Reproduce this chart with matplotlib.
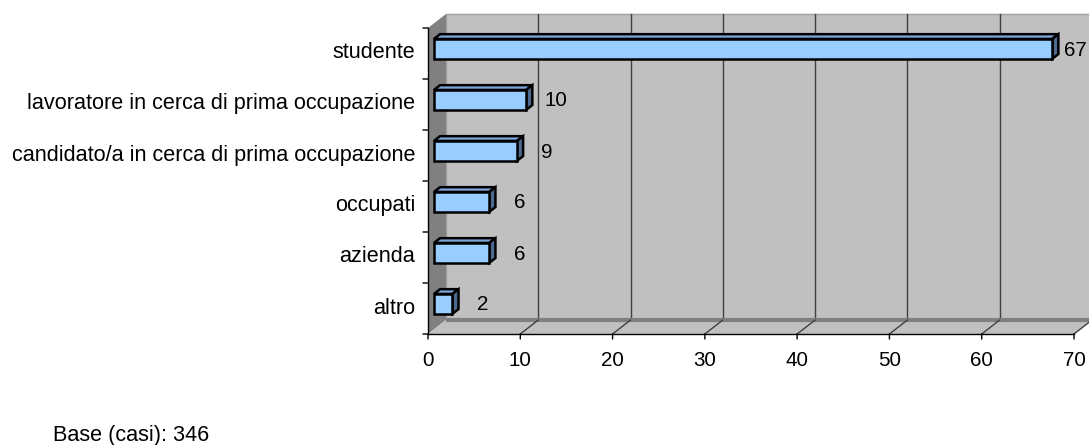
import matplotlib
matplotlib.use("Agg")
import matplotlib.pyplot as plt
from matplotlib.patches import Polygon

plt.rcParams['font.family'] = ['Liberation Sans', 'DejaVu Sans']

# data (top to bottom as in the chart)
categories = ['studente',
              'lavoratore in cerca di prima occupazione',
              'candidato/a in cerca di prima occupazione',
              'occupati',
              'azienda',
              'altro']
values = [67, 10, 9, 6, 6, 2]
xticks = [0, 10, 20, 30, 40, 50, 60, 70]
note = 'Base (casi): 346'

W, H = 1089, 445
fig = plt.figure(figsize=(W / 100, H / 100), dpi=100)
# front plane of the 3D box (pixels)
x0, x1, y0, y1 = 428, 1074, 334, 28
ax = fig.add_axes([x0 / W, 1 - y0 / H, (x1 - x0) / W, (y0 - y1) / H])
xmax = xticks[-1]
n = len(categories)
ax.set_xlim(0, xmax)
ax.set_ylim(0, n)
ax.axis('off')

# pixel -> data unit scales, depth offset 18 px right, 14 px up
sx = (x1 - x0) / xmax
sy = (y0 - y1) / n
DX = 18 / sx
DY = 14 / sy

FS_TXT = 15.6
FS_NUM = 14.8


def poly(pts, fc, ec='none', lw=0, z=1):
    ax.add_patch(Polygon(pts, closed=True, facecolor=fc, edgecolor=ec,
                         linewidth=lw, zorder=z, clip_on=False,
                         joinstyle='miter'))


# back wall
poly([(DX, DY), (xmax + DX, DY), (xmax + DX, n + DY), (DX, n + DY)],
     '#c0c0c0', '#a0a0a0', 1, z=0)
# left side wall
poly([(0, 0), (DX, DY), (DX, n + DY), (0, n)], '#808080', z=1)
# floor
poly([(0, 0), (xmax, 0), (xmax + DX, DY), (DX, DY)], '#c0c0c0', z=1)
ax.plot([DX, xmax + DX], [DY, DY], color='#808080', lw=3,
        solid_capstyle='butt', zorder=1.5, clip_on=False)

# grid lines on back wall and on floor
for t in xticks[1:]:
    ax.plot([t + DX, t + DX], [DY, n + DY], color='#404040', lw=1,
            zorder=1.2, clip_on=False)
    ax.plot([t, t + DX], [0, DY], color='#404040', lw=1, zorder=1.6,
            clip_on=False)

# axes lines and ticks
ax.plot([0, xmax], [0, 0], color='black', lw=1, zorder=5, clip_on=False)
ax.plot([0, 0], [0, n], color='black', lw=1, zorder=5, clip_on=False)
for t in xticks:
    ax.annotate('', xy=(t, 0), xytext=(0, -5), textcoords='offset pixels',
                arrowprops=dict(arrowstyle='-', color='black', lw=1,
                                shrinkA=0, shrinkB=0))
    ax.annotate(str(t), xy=(t, 0), xytext=(0, -32),
                textcoords='offset pixels', ha='center', va='baseline',
                fontsize=FS_NUM)
for k in range(n + 1):
    ax.annotate('', xy=(0, k), xytext=(-5, 0), textcoords='offset pixels',
                arrowprops=dict(arrowstyle='-', color='black', lw=1,
                                shrinkA=0, shrinkB=0))

# 3D bars
d0, d1 = 0.33, 0.67
hh = 0.195
for i, (cat, v) in enumerate(zip(categories, values)):
    yc = n - i - 0.5
    fx, fy = d0 * DX, d0 * DY
    bx, by = d1 * DX, d1 * DY
    # top face
    poly([(fx, yc + hh + fy), (v + fx, yc + hh + fy),
          (v + bx, yc + hh + by), (bx, yc + hh + by)],
         '#7ea6db', 'black', 1.8, z=3)
    # side face
    poly([(v + fx, yc - hh + fy), (v + bx, yc - hh + by),
          (v + bx, yc + hh + by), (v + fx, yc + hh + fy)],
         '#4f6a8f', 'black', 1.8, z=3)
    # front face
    poly([(fx, yc - hh + fy), (v + fx, yc - hh + fy),
          (v + fx, yc + hh + fy), (fx, yc + hh + fy)],
         '#99ccff', 'black', 1.8, z=4)
    # value label, centred a bit right of the bar end, kept inside the box
    lx = min(v + bx + 24 / sx, xmax + 0.1)
    ax.text(lx, yc - 2 / sy, str(v), ha='center', va='baseline',
            fontsize=FS_NUM)
    ax.annotate(cat, xy=(0, yc), xytext=(-13, -5),
                textcoords='offset pixels', ha='right', va='baseline',
                fontsize=FS_TXT)

fig.text(53 / W, 1 - 441 / H, note, ha='left', va='baseline',
         fontsize=FS_TXT)

fig.savefig('out.png', dpi=100)
